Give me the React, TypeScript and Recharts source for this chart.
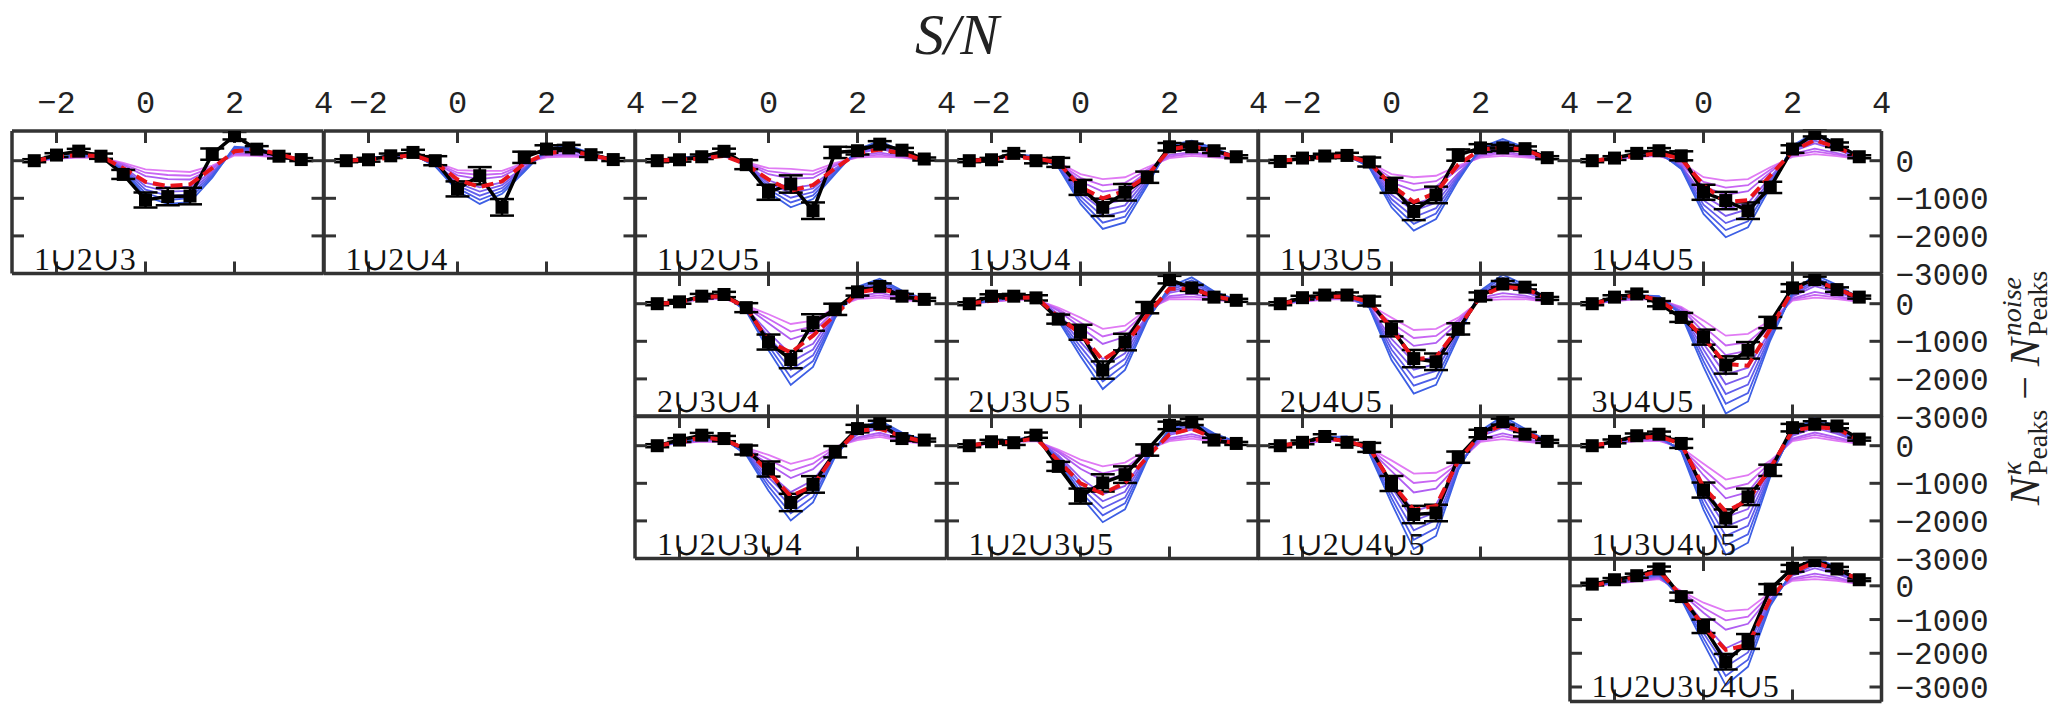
import React from 'react'
import { ErrorBar, Line, LineChart, XAxis, YAxis } from 'recharts'

// signal-to-noise bins shared by every panel
const snr = [-2.5, -2, -1.5, -1, -0.5, 0, 0.5, 1, 1.5, 2, 2.5, 3, 3.5]
const xTicks = [-2, 0, 2, 4]
const yTicks = [0, -1000, -2000, -3000]
const errBars = [40, 50, 60, 70, 120, 200, 230, 220, 150, 100, 80, 60, 40]
const rowDomains = [
  [-3000, 790],
  [-3000, 790],
  [-3000, 790],
  [-3430, 795],
]
// model curves, deepest (blue) to shallowest (magenta)
const modelColors = ['#3d5fe4', '#4d5ee8', '#625dec', '#7a5cee', '#955cf0', '#b05ef2', '#c866f3', '#e07af4']

const black123 = [0, 150, 255, 120, -365, -1045, -955, -940, 175, 665, 307, 120, 30]
const red123 = [0, 100, 150, 120, -200, -560, -675, -630, -200, 250, 300, 180, 0]
const models123 = [
  [0, 80, 160, 130, -280, -950, -1150, -1100, -450, 370, 330, 180, 30],
  [0, 76, 150, 124, -250, -860, -1045, -995, -410, 340, 305, 168, 28],
  [0, 72, 142, 118, -225, -770, -930, -900, -370, 310, 280, 155, 25],
  [0, 68, 133, 112, -198, -680, -820, -800, -330, 283, 255, 142, 22],
  [0, 65, 125, 105, -170, -590, -710, -700, -290, 255, 230, 130, 20],
  [0, 57, 107, 92, -115, -410, -490, -500, -210, 200, 180, 105, 15],
  [0, 54, 98, 86, -88, -320, -380, -400, -170, 170, 155, 92, 12],
  [0, 50, 90, 80, -60, -230, -270, -300, -130, 140, 130, 80, 10],
]

const black124 = [0, 25, 130, 220, 0, -750, -400, -1240, 90, 310, 340, 160, 30]
const red124 = [0, 30, 80, 150, -50, -500, -700, -550, -80, 200, 260, 150, 20]
const models124 = [
  [0, 60, 140, 170, -150, -800, -1150, -880, -300, 330, 400, 200, 30],
  [0, 58, 134, 162, -136, -730, -1040, -805, -270, 300, 365, 185, 28],
  [0, 55, 128, 155, -122, -662, -930, -728, -240, 270, 328, 170, 25],
  [0, 52, 122, 148, -108, -595, -820, -650, -210, 240, 292, 155, 22],
  [0, 50, 115, 140, -95, -525, -710, -575, -180, 210, 255, 140, 20],
  [0, 45, 103, 125, -68, -388, -490, -423, -120, 150, 183, 110, 15],
  [0, 42, 96, 118, -54, -320, -380, -345, -90, 120, 146, 95, 12],
  [0, 40, 90, 110, -40, -250, -270, -270, -60, 90, 110, 80, 10],
]

const black125 = [0, 25, 105, 250, -105, -840, -620, -1330, 220, 265, 440, 280, 45]
const red125 = [0, 30, 60, 130, -100, -500, -800, -650, -200, 200, 300, 200, 0]
const models125 = [
  [0, 60, 140, 170, -150, -840, -1240, -1020, -350, 300, 530, 250, 40],
  [0, 58, 134, 162, -136, -760, -1110, -925, -315, 272, 478, 230, 36],
  [0, 55, 128, 155, -122, -680, -985, -833, -278, 245, 425, 208, 33],
  [0, 52, 122, 148, -108, -600, -858, -740, -240, 218, 372, 186, 29],
  [0, 50, 115, 140, -95, -520, -730, -645, -205, 190, 320, 165, 25],
  [0, 45, 103, 125, -68, -360, -475, -458, -133, 135, 215, 123, 18],
  [0, 42, 96, 118, -54, -280, -348, -365, -96, 108, 162, 100, 14],
  [0, 40, 90, 110, -40, -200, -220, -270, -60, 80, 110, 80, 10],
]

const black134 = [0, 25, 195, 0, -45, -710, -1240, -840, -440, 370, 370, 265, 105]
const red134 = [0, 30, 100, 60, -50, -700, -1000, -800, -400, 300, 400, 250, 100]
const models134 = [
  [0, 60, 170, 120, -175, -1150, -1815, -1640, -660, 400, 530, 335, 110],
  [0, 58, 162, 115, -160, -1050, -1650, -1490, -600, 360, 480, 305, 102],
  [0, 55, 153, 110, -143, -951, -1484, -1340, -539, 318, 430, 274, 93],
  [0, 52, 144, 105, -126, -852, -1318, -1190, -478, 276, 380, 244, 84],
  [0, 50, 135, 100, -110, -753, -1153, -1040, -418, 235, 330, 213, 75],
  [0, 45, 118, 90, -78, -554, -821, -740, -296, 153, 230, 151, 58],
  [0, 42, 109, 85, -62, -455, -655, -590, -236, 112, 180, 120, 49],
  [0, 40, 100, 80, -45, -355, -490, -440, -175, 70, 130, 90, 40],
]

const black135 = [-20, 70, 125, 140, -35, -655, -1350, -910, 150, 340, 340, 320, 80]
const red135 = [0, 50, 100, 130, -50, -650, -1100, -850, -100, 300, 350, 300, 50]
const models135 = [
  [0, 60, 170, 150, -175, -1240, -1860, -1550, -530, 350, 575, 350, 100],
  [0, 58, 162, 142, -160, -1130, -1680, -1405, -480, 316, 520, 318, 92],
  [0, 55, 153, 135, -143, -1019, -1505, -1263, -430, 283, 464, 285, 83],
  [0, 52, 144, 128, -126, -908, -1328, -1120, -380, 249, 408, 252, 74],
  [0, 50, 135, 120, -110, -798, -1150, -975, -330, 215, 353, 220, 65],
  [0, 45, 118, 105, -78, -576, -795, -688, -230, 148, 241, 155, 48],
  [0, 42, 109, 98, -62, -465, -618, -545, -180, 114, 186, 122, 39],
  [0, 40, 100, 90, -45, -355, -440, -400, -130, 80, 130, 90, 30],
]

const black145 = [0, 70, 195, 265, 130, -840, -1060, -1330, -710, 310, 725, 425, 105]
const red145 = [0, 60, 130, 200, 50, -650, -1100, -1050, -400, 250, 550, 350, 100]
const models145 = [
  [0, 70, 180, 230, -220, -1415, -2035, -1770, -710, 400, 750, 450, 120],
  [0, 66, 170, 216, -198, -1295, -1845, -1610, -645, 362, 678, 410, 110],
  [0, 63, 160, 203, -176, -1171, -1659, -1450, -576, 325, 606, 368, 100],
  [0, 59, 150, 189, -154, -1050, -1470, -1290, -510, 288, 535, 326, 90],
  [0, 55, 140, 175, -133, -928, -1283, -1130, -443, 250, 463, 285, 80],
  [0, 48, 120, 148, -89, -684, -906, -810, -309, 175, 319, 203, 60],
  [0, 44, 110, 134, -67, -562, -718, -650, -242, 138, 247, 162, 50],
  [0, 40, 100, 120, -45, -440, -530, -490, -175, 100, 175, 120, 40],
]

const black234 = [0, 50, 200, 245, -105, -1020, -1485, -500, -150, 315, 460, 200, 115]
const red234 = [0, 40, 170, 200, -100, -1000, -1300, -850, -300, 300, 400, 250, 100]
const models234 = [
  [0, 70, 200, 230, -200, -1240, -2160, -1680, -370, 450, 665, 350, 120],
  [0, 66, 189, 218, -182, -1120, -1958, -1525, -336, 410, 602, 320, 110],
  [0, 63, 178, 205, -163, -1000, -1755, -1373, -303, 368, 539, 288, 100],
  [0, 59, 166, 192, -144, -880, -1552, -1220, -270, 326, 476, 256, 90],
  [0, 55, 155, 180, -125, -760, -1350, -1065, -235, 285, 413, 225, 80],
  [0, 48, 133, 155, -88, -520, -945, -758, -168, 203, 286, 163, 60],
  [0, 44, 122, 142, -70, -400, -742, -605, -134, 162, 223, 132, 50],
  [0, 40, 110, 130, -50, -280, -540, -450, -100, 120, 160, 100, 40],
]

const black235 = [0, 200, 200, 155, -410, -760, -1765, -1020, -105, 640, 420, 175, 90]
const red235 = [0, 80, 150, 170, -350, -800, -1500, -1100, -300, 400, 400, 200, 80]
const models235 = [
  [0, 90, 190, 200, -450, -1400, -2270, -1760, -450, 450, 700, 330, 100],
  [0, 85, 179, 189, -406, -1272, -2070, -1613, -412, 409, 627, 302, 92],
  [0, 80, 168, 178, -363, -1143, -1870, -1466, -375, 368, 554, 273, 85],
  [0, 75, 156, 166, -319, -1014, -1670, -1320, -338, 326, 481, 244, 78],
  [0, 70, 145, 155, -275, -885, -1470, -1173, -300, 285, 408, 215, 70],
  [0, 60, 123, 133, -188, -628, -1070, -879, -225, 203, 261, 158, 55],
  [0, 55, 112, 122, -144, -500, -870, -732, -188, 162, 188, 129, 48],
  [0, 50, 100, 110, -100, -370, -670, -585, -150, 120, 115, 100, 40],
]

const black245 = [0, 160, 230, 230, 70, -670, -1460, -1545, -670, 200, 525, 440, 140]
const red245 = [0, 100, 180, 200, 50, -650, -1480, -1420, -650, 200, 450, 400, 150]
const models245 = [
  [0, 100, 200, 230, -100, -1500, -2390, -2160, -890, 350, 770, 500, 150],
  [0, 94, 189, 216, -92, -1360, -2180, -1975, -825, 318, 688, 452, 138],
  [0, 88, 178, 203, -83, -1218, -1968, -1788, -760, 285, 606, 405, 125],
  [0, 82, 166, 189, -74, -1076, -1756, -1600, -695, 252, 525, 358, 112],
  [0, 75, 155, 175, -65, -935, -1545, -1415, -630, 220, 443, 310, 100],
  [0, 63, 133, 148, -48, -653, -1123, -1043, -500, 155, 279, 215, 75],
  [0, 56, 122, 134, -39, -512, -912, -856, -435, 122, 197, 168, 62],
  [0, 50, 110, 120, -30, -370, -700, -670, -370, 90, 115, 120, 50],
]

const black345 = [0, 175, 260, 0, -365, -890, -1630, -1240, -500, 420, 640, 375, 175]
const red345 = [0, 130, 230, 100, -300, -900, -1600, -1650, -670, 350, 600, 400, 150]
const models345 = [
  [0, 120, 230, 200, -300, -1680, -2920, -2600, -980, 300, 770, 500, 150],
  [0, 112, 216, 188, -272, -1525, -2660, -2375, -914, 272, 694, 452, 138],
  [0, 105, 203, 175, -245, -1373, -2403, -2150, -848, 245, 618, 405, 125],
  [0, 98, 189, 162, -218, -1220, -2145, -1925, -782, 218, 542, 358, 112],
  [0, 90, 175, 150, -190, -1065, -1885, -1700, -715, 190, 465, 310, 100],
  [0, 75, 148, 125, -135, -758, -1368, -1250, -583, 135, 313, 215, 75],
  [0, 68, 134, 112, -108, -604, -1110, -1025, -516, 108, 236, 168, 62],
  [0, 60, 120, 100, -80, -450, -850, -800, -450, 80, 160, 120, 50],
]

const black1234 = [0, 150, 280, 190, -115, -620, -1510, -1030, -160, 455, 585, 190, 150]
const red1234 = [0, 100, 220, 160, -100, -700, -1340, -1070, -200, 400, 450, 250, 100]
const models1234 = [
  [0, 100, 200, 180, -250, -1200, -1990, -1510, -290, 450, 670, 350, 150],
  [0, 95, 189, 170, -226, -1080, -1800, -1362, -257, 412, 615, 322, 136],
  [0, 90, 178, 160, -203, -961, -1613, -1215, -224, 375, 561, 293, 123],
  [0, 85, 166, 150, -179, -842, -1424, -1068, -191, 338, 507, 264, 109],
  [0, 80, 155, 140, -155, -723, -1235, -920, -158, 300, 453, 235, 95],
  [0, 70, 133, 120, -108, -484, -858, -625, -91, 225, 344, 178, 68],
  [0, 65, 122, 110, -84, -364, -669, -478, -58, 188, 290, 149, 54],
  [0, 60, 110, 100, -60, -245, -480, -330, -25, 150, 235, 120, 40],
]

const black1235 = [0, 105, 80, 280, -550, -1340, -990, -770, -115, 540, 630, 150, 60]
const red1235 = [0, 80, 100, 200, -400, -1000, -1270, -990, -300, 300, 450, 200, 50]
const models1235 = [
  [0, 90, 180, 220, -400, -1340, -2035, -1690, -375, 450, 670, 330, 100],
  [0, 85, 170, 208, -362, -1220, -1850, -1535, -340, 409, 610, 302, 92],
  [0, 80, 160, 195, -325, -1098, -1664, -1380, -306, 368, 550, 275, 85],
  [0, 75, 150, 182, -288, -976, -1478, -1225, -272, 326, 490, 248, 78],
  [0, 70, 140, 170, -250, -855, -1293, -1070, -238, 285, 430, 220, 70],
  [0, 60, 120, 145, -175, -613, -921, -760, -169, 203, 310, 165, 55],
  [0, 55, 110, 132, -138, -492, -735, -605, -134, 162, 250, 138, 48],
  [0, 50, 100, 120, -100, -370, -550, -450, -100, 120, 190, 110, 40],
]

const black1245 = [0, 90, 245, 90, -45, -1005, -1830, -1790, -305, 325, 640, 305, 115]
const red1245 = [0, 80, 200, 120, -50, -1000, -1700, -1600, -400, 300, 550, 350, 100]
const models1245 = [
  [0, 100, 230, 250, -200, -1530, -2750, -2400, -650, 400, 785, 450, 130],
  [0, 95, 216, 235, -182, -1388, -2500, -2190, -623, 362, 709, 408, 119],
  [0, 90, 203, 220, -165, -1245, -2248, -1980, -596, 325, 633, 365, 108],
  [0, 85, 189, 205, -148, -1102, -1996, -1770, -570, 288, 556, 322, 96],
  [0, 80, 175, 190, -130, -960, -1745, -1560, -543, 250, 480, 280, 85],
  [0, 70, 148, 160, -95, -675, -1243, -1140, -489, 175, 328, 195, 63],
  [0, 65, 134, 145, -78, -532, -992, -930, -462, 138, 252, 152, 52],
  [0, 60, 120, 130, -60, -390, -740, -720, -435, 100, 175, 110, 40],
]

const black1345 = [0, 115, 265, 305, 60, -1180, -1925, -1360, -655, 480, 570, 525, 175]
const red1345 = [0, 100, 200, 250, 50, -1100, -1750, -1450, -600, 400, 500, 450, 150]
const models1345 = [
  [0, 100, 230, 260, -150, -1700, -2900, -2580, -830, 400, 740, 500, 150],
  [0, 95, 216, 244, -138, -1548, -2650, -2355, -776, 365, 675, 454, 138],
  [0, 90, 203, 228, -125, -1395, -2400, -2131, -721, 330, 610, 408, 125],
  [0, 85, 189, 212, -112, -1242, -2150, -1907, -667, 295, 545, 362, 112],
  [0, 80, 175, 195, -100, -1090, -1900, -1683, -613, 260, 480, 315, 100],
  [0, 70, 148, 163, -75, -785, -1400, -1234, -504, 190, 350, 223, 75],
  [0, 65, 134, 146, -62, -632, -1150, -1010, -450, 155, 285, 176, 62],
  [0, 60, 120, 130, -50, -480, -900, -785, -395, 120, 220, 130, 50],
]

const black12345 = [50, 180, 300, 500, -320, -1200, -2250, -1650, -100, 520, 750, 500, 180]
const red12345 = [0, 150, 250, 450, -300, -1200, -1900, -1750, -400, 400, 700, 450, 200]
const models12345 = [
  [0, 120, 250, 350, -400, -1700, -2950, -2400, -600, 450, 850, 550, 150],
  [0, 112, 235, 332, -369, -1550, -2675, -2188, -550, 412, 769, 500, 138],
  [0, 105, 220, 313, -338, -1400, -2400, -1975, -500, 375, 688, 450, 125],
  [0, 98, 205, 294, -306, -1250, -2125, -1762, -450, 338, 606, 400, 112],
  [0, 90, 190, 275, -275, -1100, -1850, -1550, -400, 300, 525, 350, 100],
  [0, 75, 160, 238, -213, -800, -1300, -1125, -300, 225, 363, 250, 75],
  [0, 68, 145, 219, -182, -650, -1025, -912, -250, 188, 282, 200, 62],
  [0, 60, 130, 200, -150, -500, -750, -700, -200, 150, 200, 150, 50],
]

interface PanelSpec {
  label: string
  col: number
  row: number
  black: number[]
  red: number[]
  models: number[][]
}

const panels: PanelSpec[] = [
  { label: '1∪2∪3', col: 0, row: 0, black: black123, red: red123, models: models123 },
  { label: '1∪2∪4', col: 1, row: 0, black: black124, red: red124, models: models124 },
  { label: '1∪2∪5', col: 2, row: 0, black: black125, red: red125, models: models125 },
  { label: '1∪3∪4', col: 3, row: 0, black: black134, red: red134, models: models134 },
  { label: '1∪3∪5', col: 4, row: 0, black: black135, red: red135, models: models135 },
  { label: '1∪4∪5', col: 5, row: 0, black: black145, red: red145, models: models145 },
  { label: '2∪3∪4', col: 2, row: 1, black: black234, red: red234, models: models234 },
  { label: '2∪3∪5', col: 3, row: 1, black: black235, red: red235, models: models235 },
  { label: '2∪4∪5', col: 4, row: 1, black: black245, red: red245, models: models245 },
  { label: '3∪4∪5', col: 5, row: 1, black: black345, red: red345, models: models345 },
  { label: '1∪2∪3∪4', col: 2, row: 2, black: black1234, red: red1234, models: models1234 },
  { label: '1∪2∪3∪5', col: 3, row: 2, black: black1235, red: red1235, models: models1235 },
  { label: '1∪2∪4∪5', col: 4, row: 2, black: black1245, red: red1245, models: models1245 },
  { label: '1∪3∪4∪5', col: 5, row: 2, black: black1345, red: red1345, models: models1345 },
  { label: '1∪2∪3∪4∪5', col: 5, row: 3, black: black12345, red: red12345, models: models12345 },
]

const GRID_LEFT = 12
const GRID_TOP = 131
const PANEL_W = 311.5
const PANEL_H = 142.5
const ML = 19
const MR = 149
const MT = 49
const MB = 29

const tickFont = 'Liberation Mono, DejaVu Sans Mono, monospace'
const labelFont = '"Liberation Serif", "DejaVu Serif", serif'
const frame = { stroke: '#333', strokeWidth: 3.5 }
const tickLine = { stroke: '#333', strokeWidth: 3 }

const fmtTick = (v: number) => (v < 0 ? '\u2212' + Math.abs(v) : String(v))

function TopTick({ x, y, payload }: any) {
  return (
    <text x={x} y={y} textAnchor="middle" fontSize={32} fontFamily={tickFont} fill="#222">
      {fmtTick(payload.value)}
    </text>
  )
}

function RightTick({ x, y, payload }: any) {
  return (
    <text x={x} y={y} dy="0.36em" textAnchor="start" fontSize={31} fontFamily={tickFont} fill="#222">
      {fmtTick(payload.value)}
    </text>
  )
}

const NoTick = () => <g />

function SquareDot({ cx, cy, index }: any) {
  if (cx == null || cy == null) return <g key={index} />
  return <rect key={index} x={cx - 6.5} y={cy - 6.5} width={13} height={13} fill="#000" />
}

function Panel({ p }: { p: PanelSpec }) {
  const data = snr.map((x, i) => {
    const row: Record<string, number> = { x, black: p.black[i], red: p.red[i], err: errBars[i] }
    p.models.forEach((curve, k) => {
      row['m' + k] = curve[i]
    })
    return row
  })
  const domain = rowDomains[p.row]
  const left = GRID_LEFT + p.col * PANEL_W
  const top = GRID_TOP + p.row * PANEL_H
  const order = p.models.map((_, k) => k).reverse()

  return (
    <div style={{ position: 'absolute', left: left - ML - 1, top: top - MT - 1 }}>
      <LineChart
        width={PANEL_W + ML + MR + 2}
        height={PANEL_H + MT + MB + 2}
        data={data}
        margin={{ top: MT, right: MR, bottom: MB, left: ML }}
      >
        <XAxis
          xAxisId="b"
          dataKey="x"
          type="number"
          domain={[-3, 4]}
          ticks={xTicks}
          interval={0}
          allowDataOverflow
          orientation="bottom"
          height={1}
          tickSize={-12}
          axisLine={frame}
          tickLine={tickLine}
          tick={NoTick}
        />
        <XAxis
          xAxisId="t"
          dataKey="x"
          type="number"
          domain={[-3, 4]}
          ticks={xTicks}
          interval={0}
          allowDataOverflow
          orientation="top"
          height={1}
          tickSize={-12}
          tickMargin={30}
          axisLine={frame}
          tickLine={tickLine}
          tick={p.row === 0 ? TopTick : NoTick}
        />
        <YAxis
          yAxisId="l"
          type="number"
          domain={domain}
          ticks={yTicks}
          interval={0}
          allowDataOverflow
          orientation="left"
          width={1}
          tickSize={-12}
          axisLine={frame}
          tickLine={tickLine}
          tick={NoTick}
        />
        <YAxis
          yAxisId="r"
          type="number"
          domain={domain}
          ticks={yTicks}
          interval={0}
          allowDataOverflow
          orientation="right"
          width={1}
          tickSize={-12}
          tickMargin={26}
          axisLine={frame}
          tickLine={tickLine}
          tick={p.col === 5 ? RightTick : NoTick}
        />
        {order.map((k) => (
          <Line
            key={k}
            xAxisId="b"
            yAxisId="l"
            type="linear"
            dataKey={'m' + k}
            stroke={modelColors[k]}
            strokeWidth={1.8}
            dot={false}
            isAnimationActive={false}
          />
        ))}
        <Line
          xAxisId="b"
          yAxisId="l"
          type="linear"
          dataKey="black"
          stroke="#000"
          strokeWidth={3.5}
          dot={SquareDot}
          isAnimationActive={false}
        >
          <ErrorBar dataKey="err" direction="y" width={12} stroke="#000" strokeWidth={2.5} />
        </Line>
        <Line
          xAxisId="b"
          yAxisId="l"
          type="linear"
          dataKey="red"
          stroke="#e8141b"
          strokeWidth={4}
          strokeDasharray="12 6"
          dot={false}
          isAnimationActive={false}
        />
      </LineChart>
      <div
        style={{
          position: 'absolute',
          left: ML + 23,
          top: MT + PANEL_H - 31,
          fontFamily: labelFont,
          fontSize: 32,
          lineHeight: '34px',
          color: '#111',
          whiteSpace: 'nowrap',
        }}
      >
        {p.label}
      </div>
    </div>
  )
}

function Scripts({ sup, sub }: { sup: string; sub: string }) {
  return (
    <span
      style={{
        display: 'inline-flex',
        flexDirection: 'column',
        verticalAlign: 'middle',
        fontSize: 28,
        lineHeight: '26px',
        marginLeft: 2,
      }}
    >
      <span style={{ fontStyle: 'italic' }}>{sup}</span>
      <span>{sub}</span>
    </span>
  )
}

export default function App() {
  return (
    <div
      style={{
        position: 'absolute',
        left: 0,
        top: 0,
        width: 2066,
        height: 713,
        background: '#fff',
        overflow: 'hidden',
      }}
    >
      <div
        style={{
          position: 'absolute',
          left: 857,
          top: 5,
          width: 200,
          textAlign: 'center',
          fontFamily: labelFont,
          fontStyle: 'italic',
          fontSize: 58,
          lineHeight: '60px',
          color: '#222',
        }}
      >
        S/N
      </div>
      {panels.map((p) => (
        <Panel key={p.label} p={p} />
      ))}
      <div
        style={{
          position: 'absolute',
          left: 2025 - 200,
          top: 388 - 35,
          width: 400,
          height: 70,
          display: 'flex',
          alignItems: 'center',
          justifyContent: 'center',
          transform: 'rotate(-90deg)',
          fontFamily: labelFont,
          fontSize: 42,
          color: '#222',
          whiteSpace: 'nowrap',
        }}
      >
        <i>N</i>
        <Scripts sup="κ" sub="Peaks" />
        <span style={{ margin: '0 10px' }}>−</span>
        <i>N</i>
        <Scripts sup="noise" sub="Peaks" />
      </div>
    </div>
  )
}
